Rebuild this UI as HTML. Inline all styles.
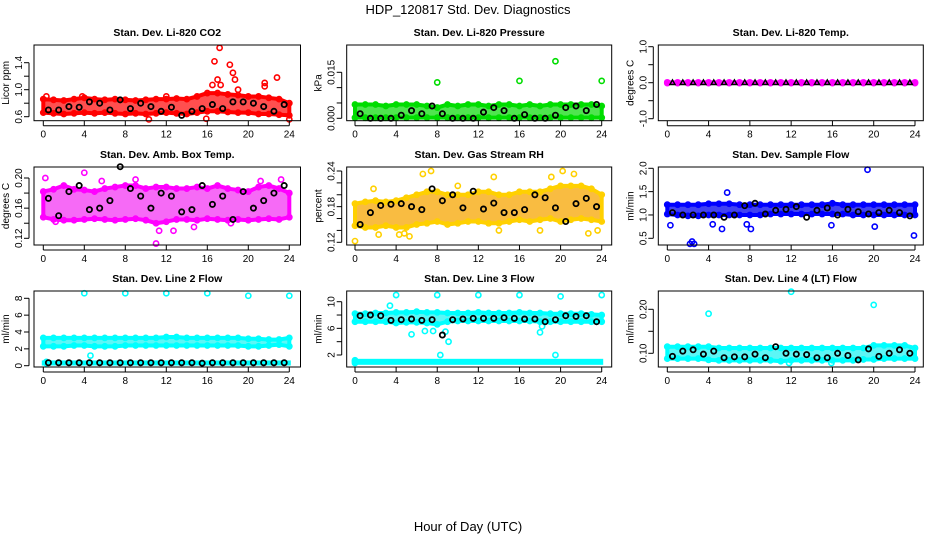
<!DOCTYPE html>
<html><head><meta charset="utf-8"><style>
body{margin:0;background:#fff;}
svg{display:block;font-family:"Liberation Sans",sans-serif;}
</style></head><body>
<svg id="chart" width="936" height="540" viewBox="0 0 936 540" xmlns="http://www.w3.org/2000/svg">
<rect width="936" height="540" fill="#fff"/>
<text x="468" y="14" text-anchor="middle" font-size="13">HDP_120817  Std. Dev. Diagnostics</text>
<text x="468" y="531" text-anchor="middle" font-size="13">Hour of Day (UTC)</text>
<g id="panels"></g>
</svg>
<script>
const hours = [0,1,2,3,4,5,6,7,8,9,10,11,12,13,14,15,16,17,18,19,20,21,22,23,24];
const blackHours = [0.5,1.5,2.5,3.5,4.5,5.5,6.5,7.5,8.5,9.5,10.5,11.5,12.5,13.5,14.5,15.5,16.5,17.5,18.5,19.5,20.5,21.5,22.5,23.5];
const xTicks = [0,4,8,12,16,20,24];

const co2Hi = [0.86,0.85,0.84,0.86,0.88,0.86,0.85,0.86,0.85,0.84,0.85,0.86,0.86,0.87,0.86,0.9,0.95,0.95,0.93,0.92,0.9,0.9,0.88,0.86,0.8];
const co2Lo = [0.66,0.65,0.64,0.65,0.66,0.65,0.66,0.65,0.64,0.65,0.64,0.65,0.66,0.65,0.64,0.66,0.68,0.68,0.67,0.66,0.66,0.64,0.64,0.63,0.62];
const co2OutX = [16.7,17.2,17.0,18.2,18.5,18.7,16.5,17.3,21.6,21.6,22.8,10.3,15.9,24,19,0.3,3.8,12];
const co2OutY = [1.42,1.62,1.15,1.37,1.25,1.15,1.07,1.07,1.1,1.05,1.18,0.56,0.57,0.56,1.0,0.9,0.9,0.9];
const co2Black = [0.7,0.7,0.75,0.74,0.82,0.8,0.7,0.85,0.72,0.8,0.75,0.68,0.74,0.62,0.68,0.72,0.78,0.72,0.82,0.82,0.8,0.75,0.68,0.78];

const presHi = [0.0045,0.0045,0.0045,0.004,0.0045,0.0045,0.0045,0.004,0.0035,0.0045,0.004,0.0045,0.0045,0.004,0.0045,0.0045,0.004,0.0045,0.004,0.0045,0.0045,0.0045,0.0045,0.0045,0.004];
const presLo = [0.0002,0.0002,0.0002,0.0002,0.0002,0.0002,0.0002,0.0002,0.0002,0.0002,0.0002,0.0002,0.0002,0.0002,0.0002,0.0002,0.0002,0.0002,0.0002,0.0002,0.0002,0.0002,0.0002,0.0002,0.0002];
const presOutX = [8,16,19.5,24];
const presOutY = [0.0117,0.0122,0.0186,0.0122];
const presBlack = [0.0015,0,0,0,0.001,0.0025,0.0015,0.004,0.0015,0,0,0,0.002,0.0035,0.0025,0,0.0012,0,0,0.001,0.0035,0.004,0.0025,0.0045];

const tempHi = [0.01,0.01,0.01,0.01,0.01,0.01,0.01,0.01,0.01,0.01,0.01,0.01,0.01,0.01,0.01,0.01,0.01,0.01,0.01,0.01,0.01,0.01,0.01,0.01,0.01];
const tempLo = [-0.01,-0.01,-0.01,-0.01,-0.01,-0.01,-0.01,-0.01,-0.01,-0.01,-0.01,-0.01,-0.01,-0.01,-0.01,-0.01,-0.01,-0.01,-0.01,-0.01,-0.01,-0.01,-0.01,-0.01,-0.01];
const tempOutX = [];
const tempOutY = [];
const tempBlack = [0,0,0,0,0,0,0,0,0,0,0,0,0,0,0,0,0,0,0,0,0,0,0,0];

const boxHi = [0.182,0.185,0.19,0.185,0.184,0.182,0.186,0.188,0.19,0.19,0.186,0.188,0.188,0.186,0.186,0.188,0.186,0.19,0.186,0.184,0.182,0.188,0.19,0.186,0.18];
const boxLo = [0.148,0.145,0.144,0.144,0.145,0.146,0.145,0.144,0.145,0.146,0.144,0.14,0.142,0.145,0.145,0.144,0.146,0.145,0.144,0.145,0.144,0.145,0.146,0.145,0.148];
const boxOutX = [0.2,4,11,11.3,12.7,5.7,9,21.2,23.2,1.2,14.7,18.3];
const boxOutY = [0.2,0.207,0.113,0.13,0.13,0.196,0.198,0.196,0.198,0.142,0.135,0.14];
const boxBlack = [0.173,0.15,0.182,0.19,0.158,0.16,0.17,0.215,0.186,0.176,0.16,0.18,0.176,0.155,0.158,0.19,0.165,0.176,0.145,0.182,0.16,0.17,0.18,0.19];

const rhHi = [0.185,0.188,0.19,0.188,0.19,0.195,0.2,0.205,0.205,0.2,0.2,0.2,0.205,0.205,0.2,0.2,0.205,0.205,0.205,0.21,0.215,0.215,0.215,0.21,0.2];
const rhLo = [0.148,0.145,0.145,0.148,0.145,0.145,0.15,0.152,0.155,0.15,0.152,0.155,0.155,0.152,0.152,0.155,0.158,0.155,0.158,0.16,0.155,0.158,0.16,0.158,0.155];
const rhOutX = [0,1.8,2.3,4.3,4.8,5.3,6.6,7.4,10,13.5,14,18,19.1,20.2,21.3,22.7,23.6];
const rhOutY = [0.122,0.21,0.133,0.133,0.135,0.13,0.235,0.24,0.215,0.23,0.14,0.14,0.23,0.24,0.235,0.135,0.14];
const rhBlack = [0.15,0.17,0.182,0.184,0.185,0.18,0.175,0.21,0.19,0.2,0.178,0.206,0.176,0.186,0.17,0.17,0.175,0.2,0.195,0.178,0.155,0.185,0.194,0.18];

const flowHi = [1.22,1.22,1.22,1.22,1.24,1.24,1.24,1.22,1.22,1.22,1.22,1.22,1.22,1.22,1.22,1.22,1.25,1.22,1.22,1.22,1.22,1.22,1.22,1.22,1.22];
const flowLo = [1.02,1.0,0.98,0.98,1.0,1.0,1.0,1.0,1.0,1.0,1.02,1.02,1.02,1.02,1.02,1.02,1.02,1.02,1.0,1.0,1.0,1.0,1.0,1.0,1.0];
const flowOutX = [2.2,2.4,2.6,5.8,19.4,23.9,0.3,4.4,8.1,5.3,7.7,20.1,15.9];
const flowOutY = [0.38,0.43,0.38,1.48,1.97,0.56,0.78,0.8,0.7,0.7,0.8,0.75,0.78];
const flowBlack = [1.05,1.0,1.0,1.0,1.0,0.95,1.0,1.2,1.25,1.02,1.1,1.12,1.18,0.95,1.1,1.15,1.0,1.12,1.07,1.02,1.05,1.1,1.05,0.98];

const l2Hi = [3.3,3.3,3.3,3.3,3.3,3.3,3.3,3.3,3.3,3.3,3.3,3.3,3.4,3.4,3.3,3.3,3.3,3.3,3.3,3.3,3.2,3.2,3.1,3.1,3.3];
const l2Lo = [2.3,2.3,2.3,2.4,2.4,2.3,2.3,2.3,2.4,2.4,2.4,2.4,2.4,2.4,2.4,2.4,2.4,2.4,2.4,2.4,2.3,2.3,2.4,2.5,2.3];
const l2OutX = [4,8,12,16,20,24,4.6,0.3,0.3];
const l2OutY = [8.6,8.6,8.6,8.6,8.3,8.3,1.2,0.3,0.45];
const l2Black = [0.35,0.35,0.35,0.35,0.35,0.35,0.35,0.35,0.35,0.35,0.35,0.35,0.35,0.35,0.35,0.3,0.35,0.35,0.35,0.35,0.35,0.35,0.35,0.35];

const l3Hi = [8.2,8.2,8.3,8.3,8.4,8.4,8.5,8.4,8.4,8.3,8.3,8.3,8.4,8.3,8.3,8.3,8.4,8.3,8.3,8.2,8.2,8.2,8.2,8.1,8.0];
const l3Lo = [7.0,7.0,7.0,7.0,6.8,6.9,6.9,6.8,6.6,7.0,7.1,7.1,7.1,7.1,7.1,7.1,7.1,7.1,7.0,7.0,7.0,7.0,7.0,7.0,7.0];
const l3OutX = [4,8,12,16,20,24,3.4,5.5,6.8,7.6,8.3,8.8,9.1,19.5,18,18.2,0,0,0];
const l3OutY = [11,11,11,11,10.8,11,9.4,5.1,5.6,5.6,2.0,5.5,4.0,2.0,5.4,6.3,1.0,0.8,1.2];
const l3Black = [7.9,8.0,7.9,7.2,7.3,7.4,7.2,7.3,5.0,7.3,7.4,7.5,7.5,7.5,7.6,7.5,7.4,7.4,7.0,7.3,7.9,7.8,7.9,7.0];

const l4Hi = [0.115,0.115,0.115,0.115,0.115,0.112,0.112,0.112,0.112,0.112,0.112,0.112,0.112,0.112,0.112,0.112,0.112,0.112,0.112,0.112,0.118,0.118,0.118,0.118,0.112];
const l4Lo = [0.088,0.088,0.088,0.088,0.085,0.084,0.084,0.084,0.084,0.084,0.084,0.082,0.084,0.084,0.084,0.084,0.084,0.084,0.084,0.086,0.086,0.088,0.088,0.088,0.088];
const l4OutX = [4,12,20,11.8,15.9];
const l4OutY = [0.19,0.24,0.21,0.078,0.078];
const l4Black = [0.093,0.105,0.108,0.098,0.105,0.09,0.092,0.092,0.098,0.09,0.115,0.1,0.098,0.097,0.09,0.09,0.1,0.095,0.085,0.11,0.093,0.1,0.108,0.1];

const panels = [
 {name:'co2',title:'Stan. Dev. Li-820 CO2',ylab:'Licor ppm',col:0,row:0,r:[0.6,116.7,1.4,62.7],ticks:[0.6,0.8,1.0,1.2,1.4],labels:['0.6','','1.0','','1.4'],hi:co2Hi,lo:co2Lo,ox:co2OutX,oy:co2OutY,bk:co2Black,c:'#ff0000',f:'#ff3030',bm:'o'},
 {name:'pressure',title:'Stan. Dev. Li-820 Pressure',ylab:'kPa',col:1,row:0,r:[0,118.3,0.015,72.3],ticks:[0,0.005,0.01,0.015],labels:['0.000','','','0.015'],hi:presHi,lo:presLo,ox:presOutX,oy:presOutY,bk:presBlack,c:'#00dd00',f:'#30e030',bm:'o'},
 {name:'temp',title:'Stan. Dev. Li-820 Temp.',ylab:'degrees C',col:2,row:0,r:[1,46.7,-1,118.7],ticks:[-1,-0.5,0,0.5,1],labels:['-1.0','','0.0','','1.0'],hi:tempHi,lo:tempLo,ox:tempOutX,oy:tempOutY,bk:tempBlack,c:'#ff00ff',f:'#ff00ff',bm:'t'},
 {name:'amb-box',title:'Stan. Dev. Amb. Box Temp.',ylab:'degrees C',col:0,row:1,r:[0.2,178,0.12,238.3],ticks:[0.12,0.14,0.16,0.18,0.2],labels:['0.12','','0.16','','0.20'],hi:boxHi,lo:boxLo,ox:boxOutX,oy:boxOutY,bk:boxBlack,c:'#ff00ff',f:'#f550f5',bm:'o'},
 {name:'rh',title:'Stan. Dev. Gas Stream RH',ylab:'percent',col:1,row:1,r:[0.24,171,0.12,242.3],ticks:[0.12,0.14,0.16,0.18,0.2,0.22,0.24],labels:['0.12','','','0.18','','','0.24'],hi:rhHi,lo:rhLo,ox:rhOutX,oy:rhOutY,bk:rhBlack,c:'#ffd000',f:'#f8b020',bm:'o'},
 {name:'sample-flow',title:'Stan. Dev. Sample Flow',ylab:'ml/min',col:2,row:1,r:[2.0,168.3,0.5,238.3],ticks:[0.5,1.0,1.5,2.0],labels:['0.5','1.0','1.5','2.0'],hi:flowHi,lo:flowLo,ox:flowOutX,oy:flowOutY,bk:flowBlack,c:'#0000ff',f:'#2020f0',bm:'o'},
 {name:'line2-flow',title:'Stan. Dev. Line 2 Flow',ylab:'ml/min',col:0,row:2,r:[0,365.7,8,298.3],ticks:[0,2,4,6,8],labels:['0','2','4','6','8'],hi:l2Hi,lo:l2Lo,ox:l2OutX,oy:l2OutY,bk:l2Black,c:'#00ffff',f:'#40f4f4',bm:'o',band2:[0.2,0.45]},
 {name:'line3-flow',title:'Stan. Dev. Line 3 Flow',ylab:'ml/min',col:1,row:2,r:[10,301.7,2,355],ticks:[2,4,6,8,10],labels:['2','','6','','10'],hi:l3Hi,lo:l3Lo,ox:l3OutX,oy:l3OutY,bk:l3Black,c:'#00ffff',f:'#40f4f4',bm:'o',band2:[0.75,1.2]},
 {name:'line4-flow',title:'Stan. Dev. Line 4 (LT) Flow',ylab:'ml/min',col:2,row:2,r:[0.2,309.3,0.1,353.3],ticks:[0.1,0.15,0.2],labels:['0.10','','0.20'],hi:l4Hi,lo:l4Lo,ox:l4OutX,oy:l4OutY,bk:l4Black,c:'#00ffff',f:'#40f4f4',bm:'o'}
];
const cols = [{l:34,r:300.5,x0:43.3,x24:289.3},{l:346.7,r:611.7,x0:355,x24:601.7},{l:658.3,r:923.3,x0:667.3,x24:915}];
const rows = [{t:45,b:120.7},{t:167,b:245},{t:291,b:367}];
const NS='http://www.w3.org/2000/svg';
const root=document.getElementById('panels');
function mk(tag,attrs,parent){const e=document.createElementNS(NS,tag);for(const k in attrs)e.setAttribute(k,attrs[k]);parent.appendChild(e);return e;}
panels.forEach(p=>{
  const C=cols[p.col],R=rows[p.row];
  const xs=h=>C.x0+(C.x24-C.x0)*h/24;
  const ys=v=>p.r[1]+(v-p.r[0])*(p.r[3]-p.r[1])/(p.r[2]-p.r[0]);
  const g=mk('g',{},root);
  
  
  const t=mk('text',{x:(C.l+C.r)/2,y:R.t-9,'text-anchor':'middle','font-size':'10.5','font-weight':'bold'},g);
  t.textContent=p.title;
  
  
  const yl=mk('text',{x:0,y:0,'text-anchor':'middle','font-size':'10',transform:`translate(${C.l-25},${(R.t+R.b)/2}) rotate(-90)`},g);
  yl.textContent=p.ylab;
  
  
  const pts=mk('g',{},g);
  
  
  let d='';
  hours.forEach((h,i)=>{d+=(i?'L':'M')+xs(h)+' '+ys(p.hi[i]);});
  for(let i=hours.length-1;i>=0;i--)d+='L'+xs(hours[i])+' '+ys(p.lo[i]);
  const band=mk('path',{d:d+'Z',fill:p.f,'fill-opacity':'0.85',stroke:p.c,'stroke-width':'4','stroke-linejoin':'round'},pts);
  
  
  if(p.band2){
    const b2=mk('rect',{x:xs(0),y:ys(p.band2[1]),width:xs(24)-xs(0),height:ys(p.band2[0])-ys(p.band2[1]),fill:p.f,stroke:p.c,'stroke-width':'3'},pts);
    
    
  }
  hours.forEach((h,i)=>{
    [p.hi[i],p.lo[i]].forEach(v=>{
      const c=mk('circle',{cx:xs(h),cy:ys(v),r:2.6,fill:'none',stroke:p.c,'stroke-width':'1.6'},pts);
      
      
    });
  });
  p.ox.forEach((h,i)=>{
    const c=mk('circle',{cx:xs(h),cy:ys(p.oy[i]),r:2.6,fill:'none',stroke:p.c,'stroke-width':'1.6'},pts);
    
    
  });
  p.bk.forEach((v,i)=>{
    let c;
    if(p.bm==='t'){
      const x=xs(blackHours[i]),y=ys(v);
      c=mk('path',{d:`M${x} ${y-2.8}L${x+2.6} ${y+1.8}L${x-2.6} ${y+1.8}Z`,fill:'none',stroke:'#000','stroke-width':'1.4'},pts);
    } else {
      c=mk('circle',{cx:xs(blackHours[i]),cy:ys(v),r:2.6,fill:'none',stroke:'#000','stroke-width':'1.8'},pts);
    }
    
    
  });
  const box=mk('rect',{x:C.l,y:R.t,width:C.r-C.l,height:R.b-R.t,fill:'none',stroke:'#000','stroke-width':'1'},g);
  
  
  xTicks.forEach(h=>{
    mk('line',{x1:xs(h),x2:xs(h),y1:R.b,y2:R.b+5,stroke:'#000'},g);
    const tl=mk('text',{x:xs(h),y:R.b+17,'text-anchor':'middle','font-size':'10'},g);
    tl.textContent=h;
    
    
  });
  mk('line',{x1:xs(0),x2:xs(24),y1:R.b+5,y2:R.b+5,stroke:'#000'},g);
  mk('line',{x1:C.l-5,x2:C.l-5,y1:ys(p.ticks[0]),y2:ys(p.ticks[p.ticks.length-1]),stroke:'#000'},g);
  p.ticks.forEach((v,i)=>{
    mk('line',{x1:C.l-5,x2:C.l-10,y1:ys(v),y2:ys(v),stroke:'#000'},g);
    if(p.labels[i]){
      const tl=mk('text',{x:0,y:0,'text-anchor':'middle','font-size':'10',transform:`translate(${C.l-12},${ys(v)}) rotate(-90)`},g);
      tl.textContent=p.labels[i];
      
      
    }
  });
});
</script>
</body></html>
